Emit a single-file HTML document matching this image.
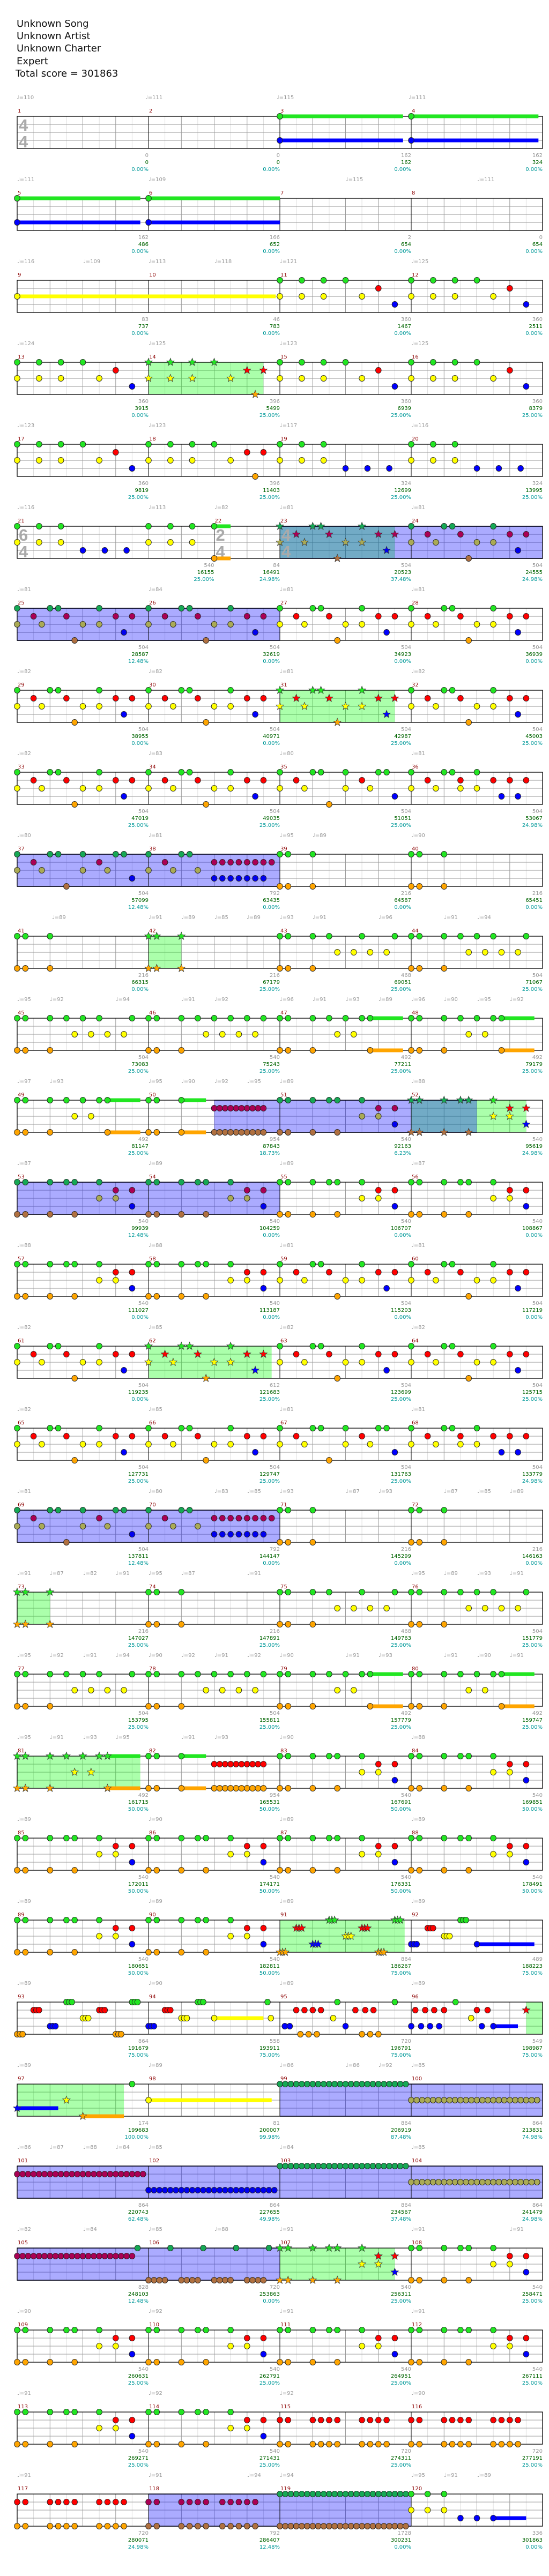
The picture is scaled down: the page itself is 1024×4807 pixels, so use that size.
<!DOCTYPE html>
<html><head><meta charset="utf-8">
<style>
body{margin:0;background:#fff;width:1024px;height:4807px;overflow:hidden}
svg{display:block}
text{font-family:"DejaVu Sans","Liberation Sans",sans-serif}
</style></head>
<body>
<svg id="s" width="1024" height="4807" xmlns="http://www.w3.org/2000/svg">
<rect width="1024" height="4807" fill="#fff"/>
<g font-size="18" fill="#111">
<text x="31" y="50">Unknown Song</text>
<text x="31" y="73">Unknown Artist</text>
<text x="31" y="96">Unknown Charter</text>
<text x="31" y="120">Expert</text>
<text x="29" y="143">Total score = 301863</text>
</g>
<g id="g"></g>
</svg>
<script>
(function(){
const W=245/16, X0=32;
function rng(a,n,s){const r=[];for(let i=0;i<n;i++)r.push(a+i*s);return r;}
function tri(a){return [a,a+1/3,a+2/3];}
const LI={G:0,R:1,Y:2,B:3,O:4};
const COL={G:'#22e622',R:'#ff0000',Y:'#ffff00',B:'#0000ff',O:'#ffa500'};
const SPC={G:'#16a855',R:'#aa0055',Y:'#aaaa55',B:'#0000ee',O:'#b07040'};

const E={};
const SUS=e=>({G:[0],B:[0],s:[['G',0,e],['B',0,e]]});
const P={G:[0,4,5,10],R:[2,6,12,14],Y:[0,3,8,10],B:[13],O:[7]};
const Q={G:[0,4,5,8,12,13],R:[2,10],Y:[0,3,8,11],B:[14],O:[6]};
const Q2={G:[0,4,5,8],R:[2,6,10,12,14],Y:[0,3,6,8],B:[11,13]};
const S={G:[0,4,5],R:[2].concat(rng(8,8,1)),Y:[0,3,6],B:rng(8,7,1)};
const T={G:[0,1,4],O:[0,1,4]};
const U={G:[0,1,4,6,10,14],Y:[7,9,11,13],O:[0,1,4]};
const U2={G:[0,1,4,6,8,10,14],Y:[7,9,11,13],O:[0,1,4]};
const Wp={G:[0,1,4,6,8,10,12,14],Y:[7,9,11,13],O:[0,1,4]};
const X={G:[0,1,4,6,8,10,11],Y:[7,9],O:[0,1,4,11],s:[['G',11,15],['O',11,15]]};
const M50={G:[0,1,4],O:[0,1,4].concat(rng(8,10,2/3)),R:rng(8,10,2/3),s:[['G',4,7],['O',4,7]]};
const Z={G:[0,1,4,6,7,10],R:[12,14],Y:[10,12],B:[14],O:[0,1,4,7]};
const A11={G:[0,2.67,5.33,8],R:[12],Y:[0,2.67,5.33,10],B:[14]};
const A14={G:[0,2.67,5.33,8],R:[12,14],Y:[0,2.67,5.33,10],O:[13]};
const A19={G:[0,2.67,5.33],Y:[0,2.67,5.33],B:[8,10.67,13.33]};
const M21={G:[0,2.67,5.33,16,18.67,21.33],Y:[0,2.67,5.33,16,18.67,21.33],B:[8,10.67,13.33]};
const M22={G:[0],O:[0],s:[['G',0,2],['O',0,2]]};
const M9={Y:[0],s:[['Y',0,31.5]]};
const M91={O:tri(0).concat(tri(12)),R:tri(2).concat(tri(10)),B:tri(4),G:tri(6).concat(tri(14)),Y:tri(8)};
const M92={B:tri(0).concat([8]),R:tri(2),Y:tri(4),G:tri(6),s:[['B',8,15]]};
const M94={B:tri(0),R:tri(2),Y:tri(4).concat([8,14.9]),G:tri(6).concat([14.5]),s:[['Y',8,14]]};
const M95={B:[0.6,1.2,8],R:[2,3,4,5,9.2,10.4,11.4],O:[2.5,3.5,4.5,10,11,12],Y:[6.5],G:[7,14]};
const M96={R:[0.5,1.7,2.8,4,8,9.3,14],B:[0,1.2,2.3,3.4,8.6,10],G:[5.4],Y:[7.3],s:[['B',10,13]]};
const M97={B:[0],Y:[6],O:[8],G:[14],s:[['B',0,5],['O',8,13]]};
const M98={Y:[0],s:[['Y',0,15]]};
const RG={G:rng(0,24,2/3)},RY={Y:rng(0,24,2/3)},RR_={R:rng(0,24,2/3)},RB={B:rng(0,24,2/3)};
const M105={R:rng(0,22,2/3),G:[14.67]};
const M106={G:[2.67,6.67,10.67,14.67],O:rng(0,4,2/3).concat(rng(4,4,2/3),rng(8,4,2/3),rng(12,4,2/3))};
const RRp=[0,1,4,5,6,7,10,11,12,13];
const RR={R:RRp,O:RRp};
const RR9={R:RRp.concat([9]),O:RRp.concat([9])};
const M119={G:rng(0,24,2/3),O:rng(0,24,2/3)};
const M120={G:[0,2,4],Y:[0,2,4],B:[6,8,10],s:[['B',10,14]]};

const MD={};
function d(n,p,o){MD[n]=Object.assign({p:p,w:16,sp:null,solo:null},o||{});}
const F={sp:[0,16]};
d(1,E);d(2,E);d(3,SUS(15));d(4,SUS(15.5));
d(5,SUS(15));d(6,SUS(16));d(7,E);d(8,E);
d(9,M9);d(10,E);d(11,A11);d(12,A11);
d(13,A11);d(14,A14,{solo:[0,14]});d(15,A11);d(16,A11);
d(17,A11);d(18,A14);d(19,A19);d(20,A19);
d(21,M21,{w:24,ts:'64'});d(22,M22,{w:8,ts:'24'});d(23,P,{sp:[0,16],solo:[0,14],ts:'44'});d(24,P,F);
d(25,P,F);d(26,P,F);d(27,P);d(28,P);
d(29,P);d(30,P);d(31,P,{solo:[0,14]});d(32,P);
d(33,P);d(34,P);d(35,Q);d(36,Q2);
d(37,Q,F);d(38,S,F);d(39,T);d(40,T);
d(41,T);d(42,T,{solo:[0,4]});d(43,U);d(44,U2);
d(45,U2);d(46,Wp);d(47,X);d(48,X);
d(49,X);d(50,M50,{sp:[8,16]});d(51,Z,F);d(52,Z,{sp:[0,8],solo:[0,14]});
d(53,Z,F);d(54,Z,F);d(55,Z);d(56,Z);
d(57,Z);d(58,Z);d(59,P);d(60,P);
d(61,P);d(62,P,{solo:[0,15]});d(63,P);d(64,P);
d(65,P);d(66,P);d(67,Q);d(68,Q2);
d(69,Q,F);d(70,S,F);d(71,T);d(72,T);
d(73,T,{solo:[0,4]});d(74,T);d(75,U);d(76,U2);
d(77,U2);d(78,Wp);d(79,X);d(80,X);
d(81,X,{solo:[0,15]});d(82,M50);d(83,Z);d(84,Z);
for(let n=85;n<=90;n++)d(n,Z);
d(91,M91,{solo:[0,15.2]});d(92,M92);
d(93,M91);d(94,M94);d(95,M95);d(96,M96,{solo:[14,16]});
d(97,M97,{solo:[0,13]});d(98,M98);d(99,RG,F);d(100,RY,F);
d(101,RR_,F);d(102,RB,F);d(103,RG,F);d(104,RY,F);
d(105,M105,F);d(106,M106,F);d(107,Z,{solo:[0,14]});d(108,Z);
for(let n=109;n<=114;n++)d(n,Z);
d(115,RR);d(116,RR);
d(117,RR);d(118,RR9,F);d(119,M119,F);d(120,M120);
MD[1].ts='44';

const ST=("0|0|0.00%,0|0|0.00%,162|162|0.00%,162|324|0.00%,"+
"162|486|0.00%,166|652|0.00%,2|654|0.00%,0|654|0.00%,"+
"83|737|0.00%,46|783|0.00%,360|1467|0.00%,360|2511|0.00%,"+
"360|3915|0.00%,396|5499|25.00%,360|6939|25.00%,360|8379|25.00%,"+
"360|9819|25.00%,396|11403|25.00%,324|12699|25.00%,324|13995|25.00%,"+
"540|16155|25.00%,84|16491|24.98%,504|20523|37.48%,504|24555|24.98%,"+
"504|28587|12.48%,504|32619|0.00%,504|34923|0.00%,504|36939|0.00%,"+
"504|38955|0.00%,504|40971|0.00%,504|42987|25.00%,504|45003|25.00%,"+
"504|47019|25.00%,504|49035|25.00%,504|51051|25.00%,504|53067|24.98%,"+
"504|57099|12.48%,792|63435|0.00%,216|64587|0.00%,216|65451|0.00%,"+
"216|66315|0.00%,216|67179|25.00%,468|69051|25.00%,504|71067|25.00%,"+
"504|73083|25.00%,540|75243|25.00%,492|77211|25.00%,492|79179|25.00%,"+
"492|81147|25.00%,954|87843|18.73%,540|92163|6.23%,540|95619|24.98%,"+
"540|99939|12.48%,540|104259|0.00%,540|106707|0.00%,540|108867|0.00%,"+
"540|111027|0.00%,540|113187|0.00%,504|115203|0.00%,504|117219|0.00%,"+
"504|119235|0.00%,612|121683|25.00%,504|123699|25.00%,504|125715|25.00%,"+
"504|127731|25.00%,504|129747|25.00%,504|131763|25.00%,504|133779|24.98%,"+
"504|137811|12.48%,792|144147|0.00%,216|145299|0.00%,216|146163|0.00%,"+
"216|147027|25.00%,216|147891|25.00%,468|149763|25.00%,504|151779|25.00%,"+
"504|153795|25.00%,504|155811|25.00%,492|157779|25.00%,492|159747|25.00%,"+
"492|161715|50.00%,954|165531|50.00%,540|167691|50.00%,540|169851|50.00%,"+
"540|172011|50.00%,540|174171|50.00%,540|176331|50.00%,540|178491|50.00%,"+
"540|180651|50.00%,540|182811|50.00%,864|186267|75.00%,489|188223|75.00%,"+
"864|191679|75.00%,558|193911|75.00%,720|196791|75.00%,549|198987|75.00%,"+
"174|199683|100.00%,81|200007|99.98%,864|206919|87.48%,864|213831|74.98%,"+
"864|220743|62.48%,864|227655|49.98%,864|234567|37.48%,864|241479|24.98%,"+
"828|248103|12.48%,720|253863|0.00%,540|256311|25.00%,540|258471|25.00%,"+
"540|260631|25.00%,540|262791|25.00%,540|264951|25.00%,540|267111|25.00%,"+
"540|269271|25.00%,540|271431|25.00%,720|274311|25.00%,720|277191|25.00%,"+
"720|280071|24.98%,792|286407|12.48%,1728|300231|0.00%,336|301863|0.00%").split(',');

const TP=[
[[31,110],[271,111],[516,115],[762,111]],
[[32,111],[277,109],[645,115],[890,111]],
[[32,116],[155,109],[277,113],[400,118],[522,121],[767,125]],
[[32,124],[277,125],[522,123],[767,125]],
[[32,123],[277,123],[522,117],[767,116]],
[[32,116],[277,113],[400,82],[522,81],[767,81]],
[[32,81],[277,84],[522,81],[767,81]],
[[32,82],[277,82],[522,81],[767,82]],
[[32,82],[277,83],[522,80],[767,81]],
[[32,80],[277,81],[522,95],[583,89],[767,90]],
[[97,89],[277,91],[338,89],[400,85],[460,89],[522,93],[583,91],[706,96],[828,91],[890,94]],
[[32,95],[93,92],[216,94],[338,91],[400,92],[522,96],[583,91],[645,93],[706,89],[767,96],[828,90],[890,95],[951,92]],
[[32,97],[93,93],[277,95],[338,90],[400,92],[461,95],[522,89],[767,88]],
[[32,87],[277,89],[522,89],[767,87]],
[[32,88],[277,88],[522,81],[767,81]],
[[32,82],[277,85],[522,82],[767,82]],
[[32,82],[277,85],[522,81],[767,81]],
[[32,81],[277,80],[400,83],[461,85],[522,93],[645,87],[706,93],[828,87],[890,85],[951,89]],
[[32,91],[93,87],[155,82],[216,91],[277,95],[338,87],[461,91],[767,95],[828,89],[890,93],[951,91]],
[[32,95],[93,92],[155,91],[216,94],[277,90],[338,92],[400,91],[461,92],[522,90],[645,91],[706,93],[828,91],[890,90],[951,91]],
[[32,95],[93,91],[155,93],[216,95],[338,91],[400,93],[522,90],[767,88]],
[[32,89],[277,90],[522,89],[767,89]],
[[32,89],[277,89],[522,89],[767,89]],
[[32,89],[277,90],[522,89],[767,89]],
[[32,89],[277,89],[522,86],[645,86],[706,92],[767,85]],
[[32,86],[93,87],[155,88],[216,84],[277,85],[522,84],[767,85]],
[[32,82],[155,84],[277,85],[400,88],[522,91],[767,91],[951,91]],
[[32,90],[277,92],[522,91],[767,91]],
[[32,91],[277,92],[522,92],[767,90]],
[[32,91],[277,91],[461,94],[522,94],[767,95],[828,91],[890,89]]
];

function starPath(cx,cy,R,r){let p='';for(let i=0;i<10;i++){const a=-Math.PI/2+i*Math.PI/5;const rr=i%2?r:R;p+=(i?'L':'M')+(cx+rr*Math.cos(a)).toFixed(1)+' '+(cy+rr*Math.sin(a)).toFixed(1);}return p+'Z';}
function inR(rg,p,inc){if(!rg)return false;return p>=rg[0]-0.01&&(inc?p<=rg[1]+0.1:p<rg[1]-0.01);}

const o=[];
for(let r=0;r<30;r++){
  const Ty=217+153*r;
  let x=X0;const ms=[];
  for(let i=1;i<=4;i++){const n=4*r+i;const m=MD[n];ms.push({n:n,m:m,x:x});x+=m.w*W;}
  const xe=x;
  // grid
  ms.forEach(q=>{for(let k=1;k<q.m.w/2;k++){const xx=q.x+k*2*W;o.push(`<line x1="${xx.toFixed(1)}" y1="${Ty}" x2="${xx.toFixed(1)}" y2="${Ty+60}" stroke="${k%2==0?'#999':'#ddd'}" stroke-width="1"/>`);}});
  for(let k=1;k<4;k++)o.push(`<line x1="${X0}" y1="${Ty+15*k}" x2="${xe.toFixed(1)}" y2="${Ty+15*k}" stroke="#999" stroke-width="1"/>`);
  // regions
  ms.forEach(q=>{
    if(q.m.solo){const a=q.x+q.m.solo[0]*W,b=q.x+q.m.solo[1]*W;o.push(`<rect x="${a.toFixed(1)}" y="${Ty}" width="${(b-a).toFixed(1)}" height="60" fill="rgb(0,255,0)" fill-opacity="0.33"/>`);}
    if(q.m.sp){const a=q.x+q.m.sp[0]*W,b=q.x+q.m.sp[1]*W;o.push(`<rect x="${a.toFixed(1)}" y="${Ty}" width="${(b-a).toFixed(1)}" height="60" fill="rgb(0,0,255)" fill-opacity="0.33"/>`);
      o.push(`<line x1="${a.toFixed(1)}" y1="${Ty}" x2="${b.toFixed(1)}" y2="${Ty}" stroke="#000066" stroke-width="1.5"/><line x1="${a.toFixed(1)}" y1="${Ty+60}" x2="${b.toFixed(1)}" y2="${Ty+60}" stroke="#000066" stroke-width="1.5"/>`);}
  });
  o.push(`<rect x="${X0}" y="${Ty}" width="${(xe-X0).toFixed(1)}" height="60" fill="none" stroke="#000" stroke-width="1.3"/>`);
  ms.forEach(q=>{
    o.push(`<line x1="${q.x.toFixed(1)}" y1="${Ty}" x2="${q.x.toFixed(1)}" y2="${Ty+60}" stroke="#000" stroke-width="1"/>`);
    o.push(`<text x="${(q.x+1).toFixed(1)}" y="${Ty-7}" font-size="10" fill="#8b0000">${q.n}</text>`);
    const me=q.x+q.m.w*W;const s=ST[q.n-1].split('|');
    o.push(`<text x="${me.toFixed(1)}" y="${Ty+76}" font-size="10" fill="#999" text-anchor="end">${s[0]}</text>`);
    o.push(`<text x="${me.toFixed(1)}" y="${Ty+89}" font-size="10" fill="#006400" text-anchor="end">${s[1]}</text>`);
    o.push(`<text x="${me.toFixed(1)}" y="${Ty+102}" font-size="10" fill="#009999" text-anchor="end">${s[2]}</text>`);
    if(q.m.ts){o.push(`<text x="${(q.x+3).toFixed(1)}" y="${Ty+27}" font-size="31" font-weight="bold" fill="#aaa" style="font-family:'Liberation Sans',sans-serif">${q.m.ts[0]}</text>`);
      o.push(`<text x="${(q.x+3).toFixed(1)}" y="${Ty+58}" font-size="31" font-weight="bold" fill="#aaa" style="font-family:'Liberation Sans',sans-serif">${q.m.ts[1]}</text>`);}
  });
  // tempo
  TP[r].forEach(t=>{o.push(`<text x="${t[0]}" y="${Ty-32}" font-size="10" fill="#999">\u2669=${t[1]}</text>`);});
  // sustains
  ms.forEach(q=>{const p=q.m.p;if(p.s)p.s.forEach(s=>{const sp=inR(q.m.sp,s[1]);const c=sp?SPC[s[0]]:COL[s[0]];const y=Ty+15*LI[s[0]];const a=q.x+s[1]*W,b=q.x+s[2]*W;o.push(`<rect x="${a.toFixed(1)}" y="${y-3.5}" width="${(b-a).toFixed(1)}" height="7" fill="${c}"/>`);});});
  // notes
  ms.forEach(q=>{const p=q.m.p;['O','B','Y','R','G'].forEach(L=>{if(!p[L])return;p[L].forEach(ps=>{
    const cx=q.x+ps*W,cy=Ty+15*LI[L];const sp=inR(q.m.sp,ps);const c=sp?SPC[L]:COL[L];
    if(inR(q.m.solo,ps,true)){o.push(`<path d="${starPath(cx,cy,7.5,3.2)}" fill="${c}" stroke="#333" stroke-width="0.8"/>`);}
    else o.push(`<ellipse cx="${cx.toFixed(1)}" cy="${cy}" rx="5.3" ry="5.6" fill="${c}" stroke="#222" stroke-width="0.9"/>`);
  });});});
}
document.getElementById('g').innerHTML=o.join('');
})();
</script>
</body></html>
